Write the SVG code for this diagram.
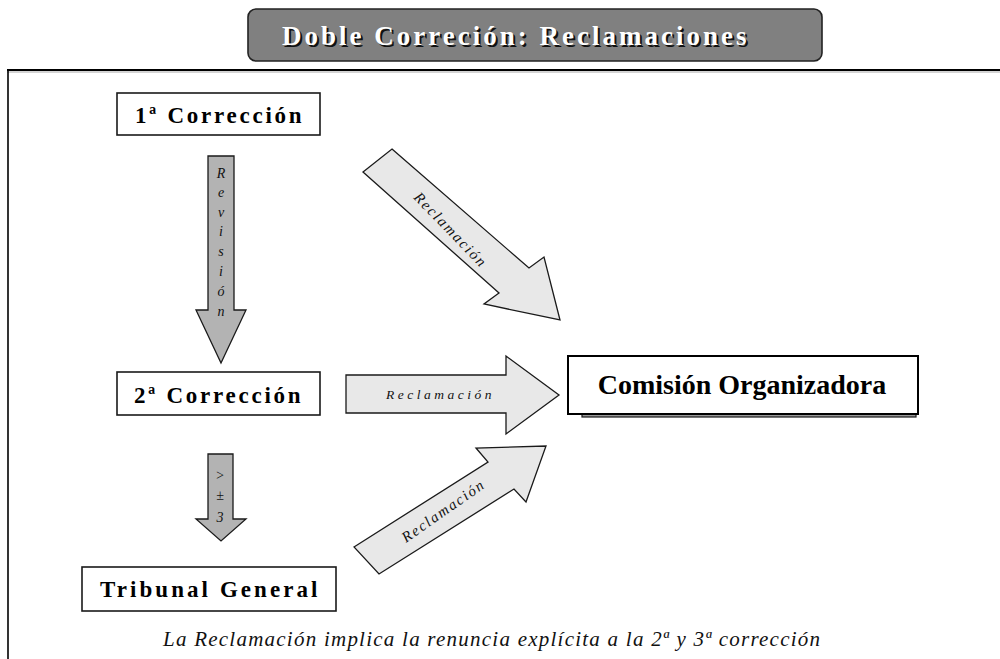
<svg xmlns="http://www.w3.org/2000/svg" width="1000" height="659" viewBox="0 0 1000 659">
<style>
text{font-family:"Liberation Serif","Times New Roman","DejaVu Serif",serif}
.box{fill:#fff;stroke:#1a1a1a;stroke-width:1.6}
.node{font-weight:bold;font-size:23px;fill:#000}
.dark{fill:#b3b3b3;stroke:#1a1a1a;stroke-width:1.3}
.light{fill:#e8e8e8;stroke:#1a1a1a;stroke-width:1.3}
.lbl{font-style:italic;font-size:15px;fill:#111;letter-spacing:1.8px}
.vl{font-style:italic;font-size:14px;fill:#111;text-anchor:middle}
.ttl{font-weight:bold;font-size:27px;letter-spacing:3px}
</style>
<rect width="1000" height="659" fill="#fff"/>
<g id="frame">
<line x1="7" y1="72" x2="1000" y2="72" stroke="#aaa" stroke-width="1.2"/>
<line x1="7" y1="70" x2="1000" y2="70" stroke="#000" stroke-width="2"/>
<line x1="8" y1="70" x2="8" y2="659" stroke="#000" stroke-width="1.6"/>
</g>
<g id="title">
<rect x="248" y="9" width="574" height="52" rx="8" fill="#808080" stroke="#222" stroke-width="1.6"/>
<text class="ttl" x="284" y="47" fill="#111">Doble Correción: Reclamaciones</text>
<text class="ttl" x="282" y="45" fill="#fff">Doble Correción: Reclamaciones</text>
</g>
<g id="connectors">
<g id="revision">
<polygon class="dark" points="208,156 234,156 234,310 246,310 221,363 196,310 208,310"/>
<text class="vl" x="221" y="178">R</text>
<text class="vl" x="221" y="197">e</text>
<text class="vl" x="221" y="217">v</text>
<text class="vl" x="221" y="236">i</text>
<text class="vl" x="221" y="256">s</text>
<text class="vl" x="221" y="276">i</text>
<text class="vl" x="221" y="296">ó</text>
<text class="vl" x="221" y="316">n</text>
</g>
<g id="mas3">
<polygon class="dark" points="208,454 233,454 233,519 246,519 221,541 196,519 208,519"/>
<text class="vl" x="220" y="480">&gt;</text>
<text class="vl" x="220" y="500">±</text>
<text class="vl" x="220" y="522">3</text>
</g>
<g id="recl1">
<polygon class="light" points="392,149 529,268 544,257 560,320 484,304 499,293 363,172"/>
<text class="lbl" x="0" y="0" transform="translate(413,198) rotate(46)">Reclamación</text>
</g>
<g id="recl2">
<polygon class="light" points="346,375 506,375 506,356 559,395 506,434 506,413 346,413"/>
<text class="lbl" x="386" y="399" style="font-size:13.5px;letter-spacing:3.5px">Reclamación</text>
</g>
<g id="recl3">
<polygon class="light" points="354,547 488,462 476,448 546,446 526,502 514,489 379,574"/>
<text class="lbl" x="0" y="0" transform="translate(406,543) rotate(-35)">Reclamación</text>
</g>
</g>
<g id="n1">
<rect class="box" x="117" y="93" width="203" height="42"/>
<text class="node" x="135" y="123" letter-spacing="2.75">1ª Corrección</text>
</g>
<g id="n2">
<rect class="box" x="117" y="372" width="203" height="43"/>
<text class="node" x="134" y="403" letter-spacing="2.75">2ª Corrección</text>
</g>
<g id="n3">
<rect class="box" x="82" y="567" width="254" height="44"/>
<text class="node" x="100" y="597" letter-spacing="3.07">Tribunal General</text>
</g>
<g id="n4">
<rect x="582" y="362" width="334" height="55" fill="#999" stroke="#1a1a1a" stroke-width="1.2"/>
<rect x="568" y="356" width="350" height="58" fill="#fff" stroke="#000" stroke-width="2"/>
<text x="742" y="394" text-anchor="middle" font-weight="bold" font-size="28" fill="#000">Comisión Organizadora</text>
</g>
<g id="caption">
<text x="163" y="646" font-style="italic" font-size="21" fill="#111" letter-spacing="1.24">La Reclamación implica la renuncia explícita a la 2ª y 3ª corrección</text>
</g>
</svg>
